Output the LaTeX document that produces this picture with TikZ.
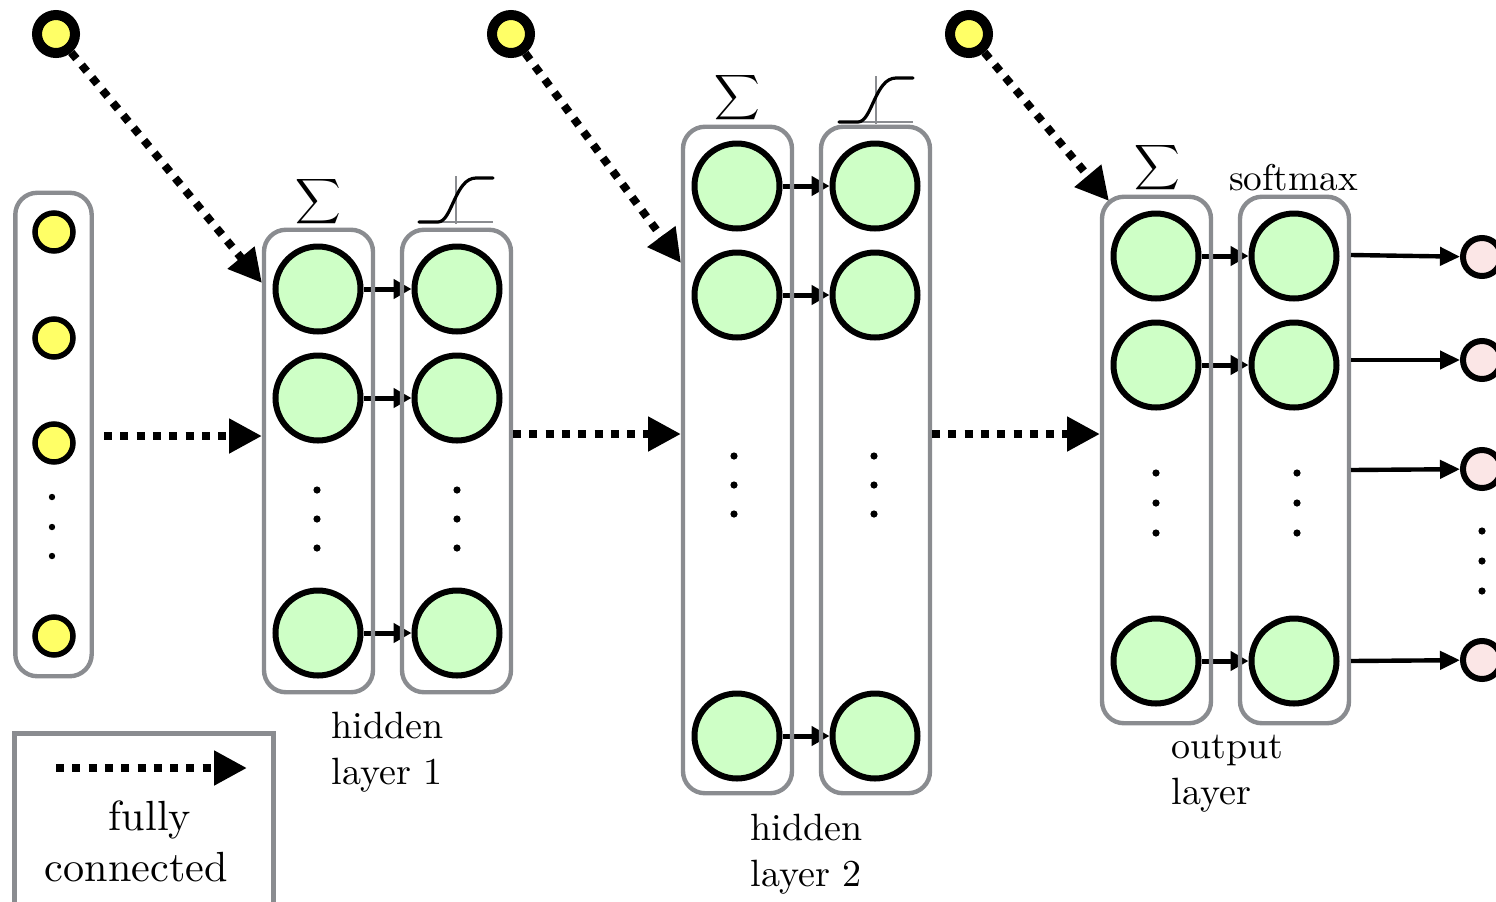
\documentclass[tikz,border=0pt]{standalone}
\usetikzlibrary{arrows.meta}
\definecolor{boxgray}{HTML}{8A8C90}
\definecolor{cellgreen}{HTML}{CEFFC6}
\definecolor{inyellow}{HTML}{FFFF66}
\definecolor{outpink}{HTML}{FBE6E6}
\tikzset{
  layerbox/.style={draw=boxgray,line width=2.2pt,rounded corners=11pt,minimum width=54.5pt,inner sep=0pt},
  cell/.style={circle,draw=black,fill=cellgreen,line width=3pt,minimum size=42.5pt,inner sep=0pt},
  inunit/.style={circle,draw=black,fill=inyellow,line width=2.75pt,minimum size=19pt,inner sep=0pt},
  topunit/.style={circle,draw=black,fill=inyellow,line width=5pt,minimum size=19pt,inner sep=0pt},
  outunit/.style={circle,draw=black,fill=outpink,line width=3pt,minimum size=19pt,inner sep=0pt},
  vdot/.style={circle,fill=black,minimum size=3.6pt,inner sep=0pt},
  smallarrow/.style={line width=2.5pt,-{Triangle[length=9pt,width=9.5pt]}},
  outarrow/.style={line width=2.2pt,-{Triangle[length=10pt,width=9pt]}},
  fullarrow/.style={line width=4pt,dash pattern=on 4pt off 4.15pt,-{Triangle[length=16.5pt,width=16.5pt]}},
  label/.style={scale=1.9,inner sep=0pt,align=left,anchor=north west,text=black},
  sigmasign/.style={scale=1.58,inner sep=0pt},
  sigm/.pic={
    \draw[line width=.6pt,boxgray] (-38,0) -- (37,0);
    \draw[line width=.6pt,boxgray] (0,-46) -- (0,2);
    \draw[line width=1.6pt,black,line cap=round] (-37,0) -- (-18,0) .. controls (-4,0) and (-1,-44) .. (20,-44) -- (37,-44);
  }
}
\begin{document}
\begin{tikzpicture}[x=0.5pt,y=-0.5pt]
\useasboundingbox (0,0) rectangle (1496,901);
% input units
\node[inunit] (i1) at (54,232) {};
\node[inunit] (i2) at (54,338) {};
\node[inunit] (i3) at (54,443) {};
\node[inunit] (i4) at (54,636) {};
\foreach \n/\y in {1/497,2/527,3/556} \node[vdot,minimum size=3.2pt] (idot\n) at (52,\y) {};
% top units
\node[topunit] (t1) at (56,34) {};
\node[topunit] (t2) at (511,34) {};
\node[topunit] (t3) at (969,34) {};
% cells
\foreach \n/\y in {1/289,2/398,3/633} {
  \node[cell] (aa\n) at (318,\y) {};
  \node[cell] (ab\n) at (457,\y) {};
  \draw[smallarrow] (aa\n) -- (ab\n);
}
\foreach \n/\y in {1/186,2/295,3/736} {
  \node[cell] (ba\n) at (737,\y) {};
  \node[cell] (bb\n) at (875,\y) {};
  \draw[smallarrow] (ba\n) -- (bb\n);
}
\foreach \n/\y in {1/256,2/365,3/661} {
  \node[cell] (ca\n) at (1156,\y) {};
  \node[cell] (cb\n) at (1294,\y) {};
  \draw[smallarrow] (ca\n) -- (cb\n);
}
% layer boxes, on top of the small arrows
\node[layerbox,minimum width=38.2pt,minimum height=241.75pt] (inbox) at (53.5,434.5) {};
\node[layerbox,minimum height=231.25pt] (aboxa) at (318.5,461) {};
\node[layerbox,minimum height=231.25pt] (aboxb) at (456.5,461) {};
\node[layerbox,minimum height=333.25pt] (bboxa) at (737.5,460) {};
\node[layerbox,minimum height=333.25pt] (bboxb) at (875.5,460) {};
\node[layerbox,minimum height=263.25pt] (cboxa) at (1156.5,460) {};
\node[layerbox,minimum height=263.25pt] (cboxb) at (1294.5,460) {};
% vertical dots
\foreach \n/\y in {1/490,2/519,3/548} {
  \node[vdot] (adota\n) at (317,\y) {};
  \node[vdot] (adotb\n) at (457,\y) {};
}
\foreach \n/\y in {1/456,2/485,3/514} {
  \node[vdot] (bdota\n) at (734,\y) {};
  \node[vdot] (bdotb\n) at (874,\y) {};
}
\foreach \n/\y in {1/473,2/503,3/533} {
  \node[vdot] (cdota\n) at (1156,\y) {};
  \node[vdot] (cdotb\n) at (1297,\y) {};
}
\foreach \n/\y in {1/531,2/561,3/591} \node[vdot] (odot\n) at (1482,\y) {};
% output units
\node[outunit] (o1) at (1482,257) {};
\node[outunit] (o2) at (1482,360) {};
\node[outunit] (o3) at (1482,469) {};
\node[outunit] (o4) at (1482,660) {};
\coordinate (s1) at (1351,255);
\coordinate (s2) at (1351,360);
\coordinate (s3) at (1351,470);
\coordinate (s4) at (1351,661);
\draw[outarrow] (s1) -- (o1);
\draw[outarrow] (s2) -- (o2);
\draw[outarrow] (s3) -- (o3);
\draw[outarrow] (s4) -- (o4);
% fully connected arrows
\coordinate (ea) at (262,283);
\coordinate (eb) at (681,263);
\coordinate (ec) at (1109,201);
\draw[fullarrow] (t1) -- (ea);
\draw[fullarrow] (t2) -- (eb);
\draw[fullarrow] (t3) -- (ec);
\coordinate (fa) at (104,436);
\coordinate (fb) at (262,436);
\coordinate (fc) at (513,434);
\coordinate (fd) at (681,434);
\coordinate (fe) at (932,434);
\coordinate (ff) at (1100,434);
\draw[fullarrow] (fa) -- (fb);
\draw[fullarrow] (fc) -- (fd);
\draw[fullarrow] (fe) -- (ff);
% sums and sigmoids
\node[sigmasign] (suma) at (318,202) {$\displaystyle\sum$};
\node[sigmasign] (sumb) at (737,98) {$\displaystyle\sum$};
\node[sigmasign] (sumc) at (1157,168) {$\displaystyle\sum$};
\pic at (456,222) {sigm};
\pic at (876,122) {sigm};
% labels
\node[label,anchor=base,scale=.98] (softlab) at (1293.5,190) {softmax};
\node[label] (laba) at (331,711) {hidden\\[.25pt]layer 1};
\node[label] (labb) at (750,813) {hidden\\[.25pt]layer 2};
\node[label] (labc) at (1171,734) {output\\[.25pt]layer};
% legend
\node[draw=boxgray,line width=2.2pt,rectangle,minimum width=129.5pt,minimum height=150pt,inner sep=0pt] (legend) at (144,883.5) {};
\coordinate (la) at (56,768);
\coordinate (lb) at (247,768);
\draw[fullarrow] (la) -- (lb);
\node[label,scale=1.11] (lablegend) at (44,800) {\hspace*{15.2pt}fully\\connected};
\end{tikzpicture}
\end{document}
